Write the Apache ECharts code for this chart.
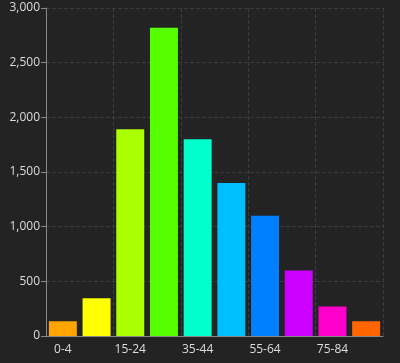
<!DOCTYPE html>
<html><head><meta charset="utf-8">
<script src="https://cdn.jsdelivr.net/npm/echarts@6/dist/echarts.min.js"></script>
<style>html,body{margin:0;padding:0;background:#232323;}#c{width:400px;height:363px;}</style>
</head><body><div id="c"></div>
<script>
var categories = ['0-4','5-14','15-24','25-34','35-44','45-54','55-64','65-74','75-84','85+'];
var values = [135, 345, 1890, 2820, 1800, 1400, 1100, 600, 270, 135];
var colors = ['#ffa500','#ffff00','#aaff00','#55ff00','#00ffcc','#00bfff','#0080ff','#cc00ff','#ff00cc','#ff6600'];
var yTicks = {min: 0, max: 3000, interval: 500};
var chart = echarts.init(document.getElementById('c'));
chart.setOption({
  backgroundColor: '#232323',
  animation: false,
  grid: {left: 46, right: 17, top: 8, bottom: 27, containLabel: false},
  xAxis: {
    type: 'category', data: categories,
    axisLine: {lineStyle: {color: '#888'}},
    axisTick: {alignWithLabel: true, interval: 1, lineStyle: {color: '#888'}},
    axisLabel: {interval: 1, color: '#ddd', fontSize: 12, fontFamily: 'Open Sans', margin: 8},
    splitLine: {show: true, interval: 1, lineStyle: {color: '#3c3c3c', type: 'dashed'}}
  },
  yAxis: {
    type: 'value', min: yTicks.min, max: yTicks.max, interval: yTicks.interval,
    axisLine: {show: true, lineStyle: {color: '#888'}},
    axisTick: {show: true, length: 5, lineStyle: {color: '#888'}},
    axisLabel: {color: '#ddd', fontSize: 12, fontFamily: 'Open Sans', margin: 6},
    splitLine: {lineStyle: {color: '#3c3c3c', type: 'dashed'}}
  },
  series: [{
    type: 'bar',
    barCategoryGap: '17%',
    data: values.map(function(v, i){ return {value: v, itemStyle: {color: colors[i]}}; })
  }]
});
</script></body></html>
